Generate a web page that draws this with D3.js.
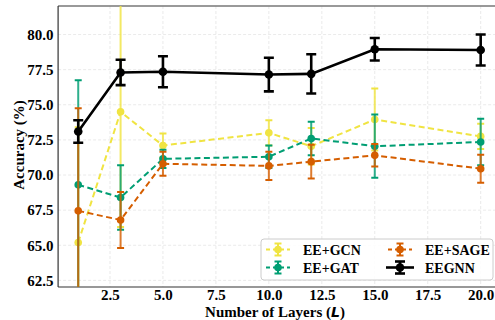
<!DOCTYPE html>
<html><head><meta charset="utf-8">
<script src="https://cdn.jsdelivr.net/npm/d3@7"></script>
<style>body{margin:0;background:#fff}svg{display:block}</style>
</head><body>
<svg id="chart" width="495" height="320"></svg>
<script>
const layers = [1, 3, 5, 10, 12, 15, 20];
const seriesNames = ["EE+GCN", "EE+GAT", "EE+SAGE", "EEGNN"];
const gcnMean = [65.2, 74.5, 72.1, 73.0, 72.05, 73.95, 72.75];
const gcnErr  = [8.2, 8.2, 0.85, 0.9, 1.3, 2.2, 0.9];
const gatMean = [69.3, 68.4, 71.15, 71.3, 72.6, 72.05, 72.35];
const gatErr  = [7.45, 2.3, 0.65, 0.8, 1.2, 2.25, 1.65];
const sageMean = [67.45, 66.8, 70.8, 70.65, 70.95, 71.4, 70.45];
const sageErr  = [7.3, 2.0, 0.85, 1.0, 1.2, 0.8, 1.0];
const eegnnMean = [73.1, 77.3, 77.35, 77.15, 77.2, 78.95, 78.9];
const eegnnErr  = [0.8, 0.9, 1.1, 1.2, 1.4, 0.8, 1.1];
const xTicks = [2.5, 5.0, 7.5, 10.0, 12.5, 15.0, 17.5, 20.0];
const yTicks = [62.5, 65.0, 67.5, 70.0, 72.5, 75.0, 77.5, 80.0];

const series = [
  {name: seriesNames[0], mean: gcnMean, err: gcnErr, color: "#F0E442", dash: "6,3.5", lw: 2, r: 3.8, cap: 3.5},
  {name: seriesNames[1], mean: gatMean, err: gatErr, color: "#009E73", dash: "6,3.5", lw: 2, r: 3.8, cap: 3.5},
  {name: seriesNames[2], mean: sageMean, err: sageErr, color: "#D55E00", dash: "6,3.5", lw: 2, r: 3.8, cap: 3.5},
  {name: seriesNames[3], mean: eegnnMean, err: eegnnErr, color: "#000000", dash: null, lw: 2.6, r: 4.3, cap: 5}
];

const svg = d3.select("#chart");
const L = 58.1, R = 500.8, T = 6, B = 287;
const x = d3.scaleLinear().domain([0.05, 20.95]).range([L, R]);
const y = d3.scaleLinear().domain([62.03, 82.03]).range([B, T]);
const serif = "'Liberation Serif','Times New Roman',serif";

svg.append("defs").append("clipPath").attr("id", "clip")
  .append("rect").attr("x", L).attr("y", T).attr("width", R - L).attr("height", B - T);

// grid
const grid = svg.append("g");
grid.selectAll(".gx").data(xTicks).join("line")
  .attr("x1", d => x(d)).attr("x2", d => x(d)).attr("y1", T).attr("y2", B)
  .attr("stroke", "#e4e4e4").attr("stroke-width", 0.8).attr("stroke-dasharray", "3,2");
grid.selectAll(".gy").data(yTicks).join("line")
  .attr("x1", L).attr("x2", R).attr("y1", d => y(d)).attr("y2", d => y(d))
  .attr("stroke", "#e4e4e4").attr("stroke-width", 0.8).attr("stroke-dasharray", "3,2");

// axes
const xAxis = svg.append("g").attr("transform", `translate(0,${B})`)
  .call(d3.axisBottom(x).tickValues(xTicks).tickFormat(d3.format(".1f")).tickSize(0).tickPadding(2.5));
const yAxis = svg.append("g").attr("transform", `translate(${L},0)`)
  .call(d3.axisLeft(y).tickValues(yTicks).tickFormat(d3.format(".1f")).tickSize(0).tickPadding(4.5));
[xAxis, yAxis].forEach(a => {
  a.select(".domain").remove();
  a.selectAll("text").attr("font-family", serif).attr("font-weight", "bold")
    .attr("font-size", "15px").attr("fill", "#000");
});

// frame
svg.append("line").attr("x1", L).attr("x2", 495).attr("y1", T).attr("y2", T)
  .attr("stroke", "#777").attr("stroke-width", 1.6);
svg.append("line").attr("x1", L).attr("x2", L).attr("y1", T).attr("y2", B)
  .attr("stroke", "#333").attr("stroke-width", 1.2);
svg.append("line").attr("x1", L).attr("x2", 495).attr("y1", B).attr("y2", B)
  .attr("stroke", "#333").attr("stroke-width", 1.2);

// series
const plot = svg.append("g").attr("clip-path", "url(#clip)");
const line = d3.line().x(d => x(d.x)).y(d => y(d.m));
series.forEach(s => {
  const pts = layers.map((l, i) => ({x: l, m: s.mean[i], e: s.err[i]}));
  const g = plot.append("g");
  g.selectAll(".eb").data(pts).join("line")
    .attr("x1", d => x(d.x)).attr("x2", d => x(d.x))
    .attr("y1", d => y(d.m - d.e)).attr("y2", d => y(d.m + d.e))
    .attr("stroke", s.color).attr("stroke-width", s.lw).attr("stroke-opacity", s.dash ? 0.82 : 1);
  [-1, 1].forEach(sg => {
    g.selectAll(".cap" + sg).data(pts).join("line")
      .attr("x1", d => x(d.x) - s.cap).attr("x2", d => x(d.x) + s.cap)
      .attr("y1", d => y(d.m + sg * d.e)).attr("y2", d => y(d.m + sg * d.e))
      .attr("stroke", s.color).attr("stroke-width", s.lw);
  });
  g.append("path").datum(pts).attr("d", line).attr("fill", "none")
    .attr("stroke", s.color).attr("stroke-width", s.lw)
    .attr("stroke-dasharray", s.dash);
  g.selectAll("circle").data(pts).join("circle")
    .attr("cx", d => x(d.x)).attr("cy", d => y(d.m)).attr("r", s.r).attr("fill", s.color);
});

// legend
const lg = svg.append("g");
lg.append("rect").attr("x", 261).attr("y", 239).attr("width", 232).attr("height", 41)
  .attr("rx", 3).attr("fill", "#fff").attr("fill-opacity", 0.85)
  .attr("stroke", "#cccccc").attr("stroke-width", 1);
const legPos = [[278, 249.5], [278, 267.5], [400, 249.5], [400, 267.5]];
series.forEach((s, i) => {
  const [cx, cy] = legPos[i];
  const half = s.dash ? 12 : 14;
  lg.append("line").attr("x1", cx - half).attr("x2", cx + half).attr("y1", cy).attr("y2", cy)
    .attr("stroke", s.color).attr("stroke-width", s.lw).attr("stroke-dasharray", s.dash ? "4,3" : null);
  lg.append("line").attr("x1", cx).attr("x2", cx).attr("y1", cy - 6).attr("y2", cy + 6)
    .attr("stroke", s.color).attr("stroke-width", s.lw);
  [-6, 6].forEach(o => lg.append("line").attr("x1", cx - s.cap).attr("x2", cx + s.cap)
    .attr("y1", cy + o).attr("y2", cy + o).attr("stroke", s.color).attr("stroke-width", s.lw));
  lg.append("circle").attr("cx", cx).attr("cy", cy).attr("r", s.r).attr("fill", s.color);
  lg.append("text").attr("x", cx + 25).attr("y", cy + 5).text(s.name)
    .attr("font-family", serif).attr("font-weight", "bold").attr("font-size", "14px");
});

// axis labels
const xl = svg.append("text").attr("x", 275).attr("y", 316.5).attr("text-anchor", "middle")
  .attr("font-family", serif).attr("font-weight", "bold").attr("font-size", "15px");
xl.append("tspan").text("Number of Layers (");
xl.append("tspan").text("L").attr("font-family", "'DejaVu Sans',sans-serif").attr("font-style", "italic").attr("font-size", "14px");
xl.append("tspan").text(")");
svg.append("text").attr("transform", "translate(24,145) rotate(-90)").attr("text-anchor", "middle")
  .attr("font-family", serif).attr("font-weight", "bold").attr("font-size", "15px").text("Accuracy (%)");
</script>
</body></html>
